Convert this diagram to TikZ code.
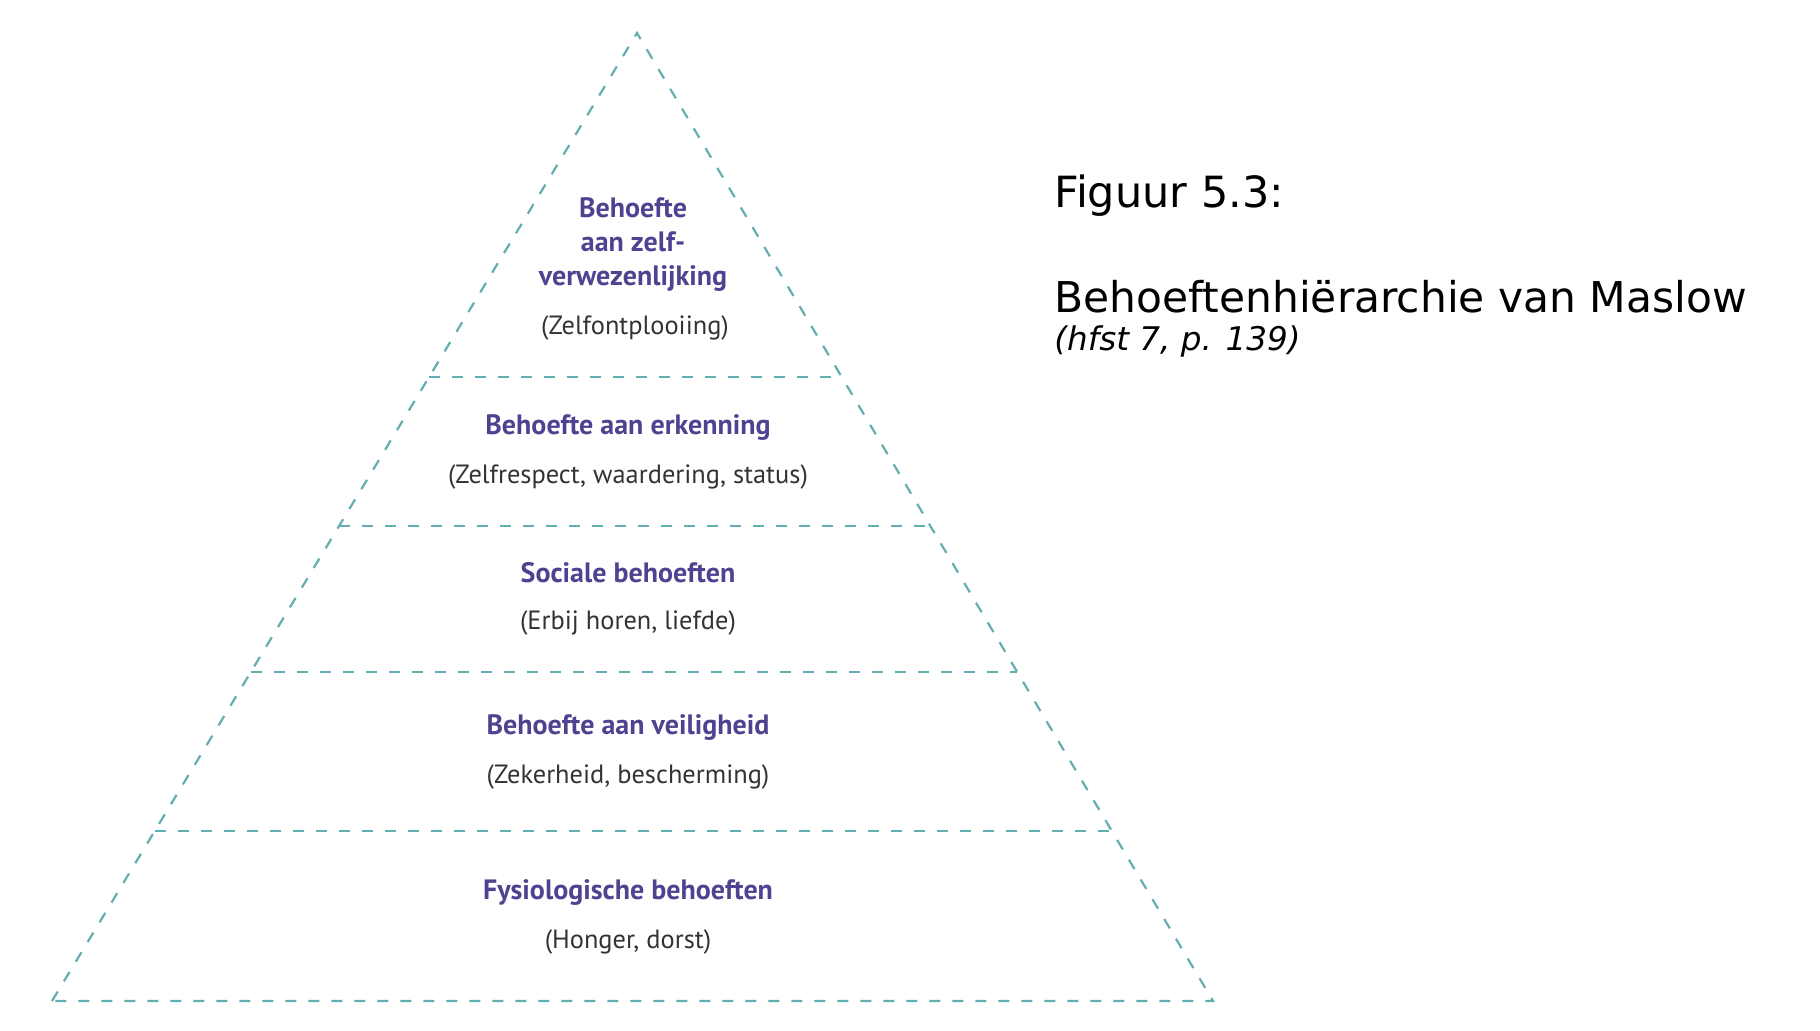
\documentclass[tikz,border=0pt]{standalone}
\usepackage{fontspec}
\setmainfont{DejaVu Sans}
\newfontfamily\pyrfont{PT Sans}
\usetikzlibrary{calc}
\definecolor{pyrline}{HTML}{62AEB0}
\definecolor{pyrtitle}{HTML}{4E4390}
\definecolor{pyrsub}{HTML}{333333}
\tikzset{
  layer/.style={draw=pyrline, line width=1.1pt, dash pattern=on 5.5pt off 6pt},
  needtitle/.style={font=\pyrfont\fontsize{14}{16}\selectfont\bfseries, text=pyrtitle, align=center, inner sep=0pt},
  needsub/.style={font=\pyrfont\fontsize{13.2}{16}\selectfont, text=pyrsub, inner sep=0pt}
}
\begin{document}
\begin{tikzpicture}[x=0.5pt,y=-0.5pt]
\useasboundingbox (0,0) rectangle (1820,1030);
\coordinate (top) at (637,33);
\coordinate (bl) at (52,1001);
\coordinate (br) at (1213,1001);
\draw[layer] (bl) -- (top) -- (br) -- cycle;

\draw[layer] ($(top)!0.3554!(bl)$) -- ($(top)!0.3554!(br)$);
\draw[layer] ($(top)!0.5093!(bl)$) -- ($(top)!0.5093!(br)$);
\draw[layer] ($(top)!0.6601!(bl)$) -- ($(top)!0.6601!(br)$);
\draw[layer] ($(top)!0.8244!(bl)$) -- ($(top)!0.8244!(br)$);

\node[needtitle] (zelf) at (633,245) {Behoefte\\[1pt]aan zelf-\\[1pt]verwezenlijking};
\node[needsub] (zelfsub) at (635,328) {(Zelfontplooiing)};

\node[needtitle] (erk) at (628,428) {Behoefte aan erkenning};
\node[needsub] (erksub) at (628,477) {(Zelfrespect, waardering, status)};

\node[needtitle] (soc) at (628,573) {Sociale behoeften};
\node[needsub] (socsub) at (628,623) {(Erbij horen, liefde)};

\node[needtitle] (veil) at (628,727) {Behoefte aan veiligheid};
\node[needsub] (veilsub) at (628,777) {(Zekerheid, bescherming)};

\node[needtitle] (fys) at (628,892) {Fysiologische behoeften};
\node[needsub] (fyssub) at (628,942) {(Honger, dorst)};

\node[anchor=west, font=\fontsize{21.5}{26}\selectfont, inner sep=0pt] (fig) at (1054,196) {Figuur 5.3:};
\node[anchor=west, font=\fontsize{21.2}{26}\selectfont, inner sep=0pt] (title) at (1054,297) {Behoeftenhiërarchie van Maslow};
\node[anchor=west, font=\fontsize{16.3}{19}\selectfont\itshape, inner sep=0pt] (src) at (1054,341) {(hfst 7, p. 139)};
\end{tikzpicture}
\end{document}
